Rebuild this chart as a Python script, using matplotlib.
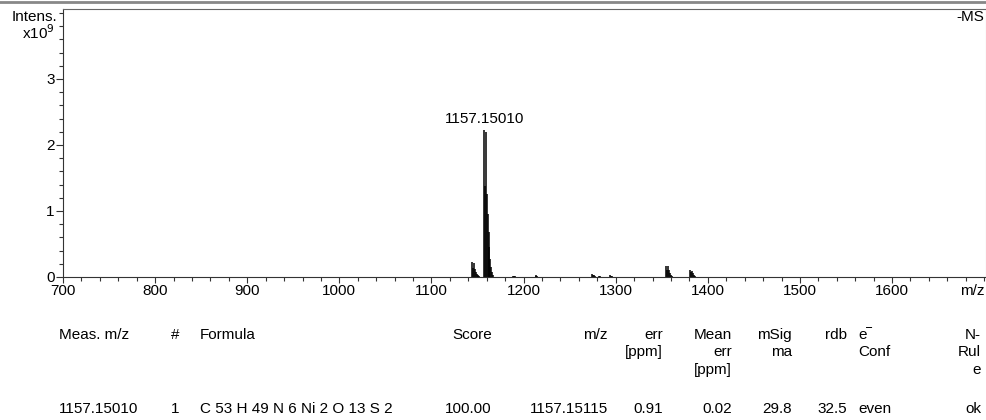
import numpy as np
import matplotlib
matplotlib.use("Agg")
import matplotlib.pyplot as plt
from matplotlib.ticker import MultipleLocator, FixedLocator
from matplotlib.lines import Line2D

plt.rcParams['font.family'] = ['Liberation Sans', 'DejaVu Sans']
plt.rcParams['font.size'] = 11

# %% spectrum sticks (m/z, intensity in 1e9)
mz = [1144, 1145, 1146, 1147, 1148, 1149, 1150, 1151, 1152,
      1157, 1158, 1159, 1160, 1161, 1162, 1163, 1164, 1165, 1166, 1167,
      1189, 1190, 1191,
      1213, 1214, 1215,
      1274, 1275, 1276, 1277,
      1282, 1283,
      1294, 1295, 1296,
      1355, 1356, 1357, 1358, 1359, 1360, 1361,
      1381, 1382, 1383, 1384, 1385, 1386]
intens = [0.22, 0.14, 0.21, 0.12, 0.08, 0.05, 0.03, 0.02, 0.01,
          2.23, 1.38, 2.19, 1.25, 0.95, 0.68, 0.45, 0.28, 0.15, 0.07, 0.03,
          0.02, 0.015, 0.01,
          0.03, 0.02, 0.01,
          0.04, 0.03, 0.025, 0.015,
          0.015, 0.01,
          0.025, 0.02, 0.012,
          0.17, 0.11, 0.16, 0.10, 0.06, 0.035, 0.015,
          0.10, 0.07, 0.09, 0.055, 0.03, 0.015]
peak_label = 1157.15010
xticks = [700, 800, 900, 1000, 1100, 1200, 1300, 1400, 1500, 1600]

# %% result table
headers = [["Meas. m/z"], ["#"], ["Formula"], ["Score"], ["m/z"], ["err", "[ppm]"],
           ["Mean", "err", "[ppm]"], ["mSig", "ma"], ["rdb"], ["e\u203e", "Conf"], ["N-", "Rul", "e"]]
row = ["1157.15010", "1", "C 53 H 49 N 6 Ni 2 O 13 S 2", "100.00", "1157.15115",
       "0.91", "0.02", "29.8", "32.5", "even", "ok"]
col_x = [59, 175, 200, 492, 608, 663, 732, 792, 847, 858, 981]
col_ha = ['left', 'center', 'left', 'right', 'right', 'right', 'right', 'right', 'right', 'left', 'right']

W, H = 987, 420
fig = plt.figure(figsize=(W / 100, H / 100), dpi=100)
ax = fig.add_axes([63 / W, 1 - 277 / H, (986 - 63) / W, (277 - 9) / H])

ax.vlines(mz, 0, intens, color='k', lw=1.1)
ax.text(peak_label, max(intens) + 0.05, f"{peak_label:.5f}", ha='center', va='bottom')

ax.set_xlim(700, 1702)
ax.set_ylim(0, 4.06)
ax.xaxis.set_major_locator(FixedLocator(xticks))
ax.xaxis.set_minor_locator(MultipleLocator(20))
ax.yaxis.set_major_locator(FixedLocator([0, 1, 2, 3]))
ax.yaxis.set_minor_locator(MultipleLocator(0.2))
ax.tick_params(which='major', direction='out', length=5, width=0.8, pad=1, color='#333333')
ax.tick_params(which='minor', direction='out', length=3, width=0.8, color='#333333')
ax.tick_params(axis='x', which='major', length=4)
for s in ['left', 'bottom']:
    ax.spines[s].set_color('#333333')
ax.spines['top'].set_color('#666666')
ax.spines['right'].set_color('#bbbbbb')

fig.text(57 / W, 1 - 17 / H, "Intens.", ha='right', va='center')
fig.text(55 / W, 1 - 33 / H, "x10$^9$", ha='right', va='center')
fig.text(984 / W, 1 - 17 / H, "-MS", ha='right', va='center')
fig.text(972 / W, 1 - 291 / H, "m/z", ha='center', va='center')
fig.add_artist(Line2D([0, 1], [1 - 1.5 / H, 1 - 1.5 / H], transform=fig.transFigure,
                      color='#888888', lw=2))

line_y = [335, 352, 370]
for x, ha, lines in zip(col_x, col_ha, headers):
    for i, t in enumerate(lines):
        fig.text(x / W, 1 - line_y[i] / H, t, ha=ha, va='center', fontsize=11)
for x, ha, t in zip(col_x, col_ha, row):
    fig.text(x / W, 1 - 409 / H, t, ha=ha, va='center', fontsize=11)

fig.savefig("out.png", dpi=100)
